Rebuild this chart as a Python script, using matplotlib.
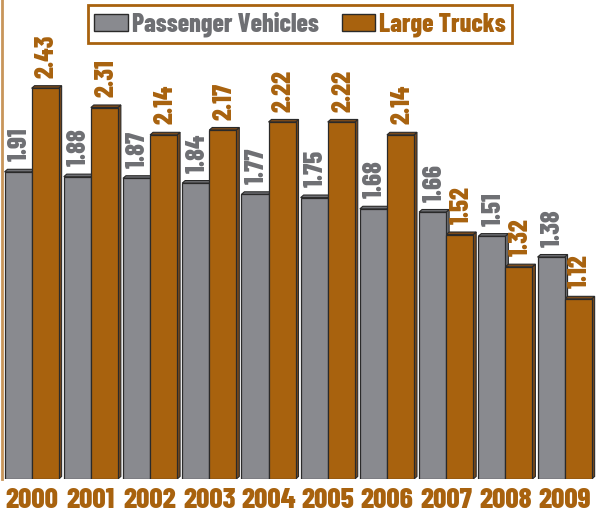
import matplotlib
matplotlib.use("Agg")
import matplotlib.pyplot as plt
from matplotlib.patches import Polygon, Patch
import numpy as np

years = ["2000", "2001", "2002", "2003", "2004", "2005", "2006", "2007", "2008", "2009"]
passenger = [1.91, 1.88, 1.87, 1.84, 1.77, 1.75, 1.68, 1.66, 1.51, 1.38]
trucks = [2.43, 2.31, 2.14, 2.17, 2.22, 2.22, 2.14, 1.52, 1.32, 1.12]
series_names = ["Passenger Vehicles", "Large Trucks"]

GRAY = "#898A8F"
ORANGE = "#A8620E"
GRAY_TXT = "#6E6F73"
ORANGE_TXT = "#A8620E"

FAM = ["Barlow Condensed", "Roboto Condensed", "DejaVu Sans"]

W, H = 596, 514
fig = plt.figure(figsize=(W / 100, H / 100), dpi=100)
ax = fig.add_axes([2 / W, (H - 479) / H, 594 / W, 479 / H])
ymax = 479 / 160.8
ax.set_xlim(-0.5, 9.53)
ax.set_ylim(0, ymax)
ax.axis("off")

x = np.arange(len(years))
bw = 0.457
dx, dy = 0.05, 0.016

FONT = dict(family=FAM, fontweight=800)

def draw_bars(xs, vals, color, shade, txtcolor):
    for xc, v in zip(xs, vals):
        x0, x1 = xc - bw / 2, xc + bw / 2
        side = Polygon([(x1, 0), (x1 + dx, dy), (x1 + dx, v + dy), (x1, v)],
                       closed=True, facecolor=shade, edgecolor="#2a2a2a", lw=0.8, zorder=2)
        top = Polygon([(x0, v), (x0 + dx, v + dy), (x1 + dx, v + dy), (x1, v)],
                      closed=True, facecolor=shade, edgecolor="#2a2a2a", lw=0.8, zorder=2)
        ax.add_patch(side)
        ax.add_patch(top)
        ax.bar(xc, v, width=bw, color=color, edgecolor="#2a2a2a", lw=0.9, zorder=3)
        ax.text(xc + 0.03, v + 0.065, f"{v:.2f}", rotation=90, ha="center", va="bottom",
                color=txtcolor, fontsize=19, zorder=4, **FONT)

draw_bars(x - bw / 2, passenger, GRAY, "#6f7074", GRAY_TXT)
draw_bars(x + bw / 2, trucks, ORANGE, "#7a4a1a", ORANGE_TXT)

# left axis line
fig.add_artist(plt.Line2D([1.5 / W, 1.5 / W], [(H - 479) / H, 1], color="#C8955A", lw=2))

# year labels
for xc, yr in zip(x, years):
    ax.text(xc, -0.055, yr, ha="center", va="top", color=ORANGE_TXT, fontsize=21,
            clip_on=False, **FONT)

# legend
handles = [Patch(facecolor=GRAY, edgecolor="#2a2a2a"), Patch(facecolor=ORANGE, edgecolor="#2a2a2a")]
leg = fig.legend(handles, series_names, loc="center", bbox_to_anchor=(300 / W, 1 - 24 / H),
                 ncol=2, frameon=True, fancybox=False, edgecolor=ORANGE, framealpha=1,
                 handlelength=1.3, handleheight=0.65, handletextpad=0.15, columnspacing=0.9,
                 borderpad=0.25, borderaxespad=0,
                 prop=dict(family=FAM, weight=800, size=18.5))
leg.get_frame().set_linewidth(2)
for t, c in zip(leg.get_texts(), [GRAY_TXT, ORANGE_TXT]):
    t.set_color(c)

fig.savefig("out.png", dpi=100)
